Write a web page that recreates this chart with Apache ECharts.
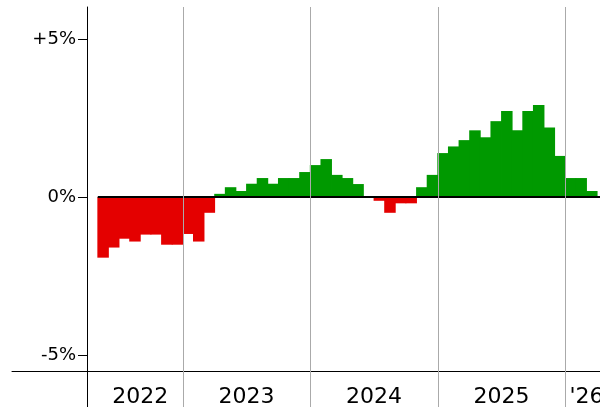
<!DOCTYPE html>
<html>
<head>
<meta charset="utf-8">
<title>Monthly change</title>
<script src="https://cdn.jsdelivr.net/npm/echarts@6/dist/echarts.min.js"></script>
<style>
  html, body { margin: 0; padding: 0; background: #fff; }
  #main { width: 600px; height: 407px; }
</style>
</head>
<body>
<div id="main"></div>
<script>
// monthly change, one bar per month
const months = [
  '2022-05', '2022-06', '2022-07', '2022-08', '2022-09', '2022-10', '2022-11', '2022-12',
  '2023-01', '2023-02', '2023-03', '2023-04', '2023-05', '2023-06', '2023-07', '2023-08', '2023-09', '2023-10', '2023-11', '2023-12',
  '2024-01', '2024-02', '2024-03', '2024-04', '2024-05', '2024-06', '2024-07', '2024-08', '2024-09', '2024-10', '2024-11', '2024-12',
  '2025-01', '2025-02', '2025-03', '2025-04', '2025-05', '2025-06', '2025-07', '2025-08', '2025-09', '2025-10', '2025-11', '2025-12',
  '2026-01', '2026-02', '2026-03'
];
const changes = [
  -1.92, -1.6, -1.32, -1.41, -1.19, -1.19, -1.51, -1.51,
  -1.17, -1.41, -0.5, 0.1, 0.31, 0.19, 0.42, 0.6, 0.42, 0.6, 0.6, 0.79,
  1.01, 1.2, 0.7, 0.6, 0.41, 0, -0.12, -0.5, -0.2, -0.2, 0.31, 0.7,
  1.39, 1.6, 1.8, 2.11, 1.89, 2.4, 2.72, 2.11, 2.72, 2.91, 2.2, 1.3,
  0.6, 0.6, 0.19
];
const years = [2022, 2023, 2024, 2025, 2026];
const yearLabels = ['2022', '2023', '2024', '2025', "'26"];
const yTicks = [-5, 0, 5];

// x axis is in months counted from Jan 2022
const xMin = -4.075;
const xMax = 51.27;
// the last year label is centred as if April 2026 were shown in full
const labelEnd = 52;

function monthIndex(s) {
  const p = s.split('-').map(Number);
  return (p[0] - 2022) * 12 + p[1] - 1;
}

const firstMonth = monthIndex(months[0]);
const barData = months.map(function (m, i) {
  return [monthIndex(m) + 0.5, changes[i]];
});

// year boundaries and label centres
const yearLines = [];
const labelCenters = [];
years.forEach(function (y) {
  const start = (y - 2022) * 12;
  if (start > firstMonth) yearLines.push({ xAxis: start });
  const a = Math.max(start, firstMonth);
  const b = Math.min(start + 12, labelEnd);
  labelCenters.push((a + b) / 2);
});

const chart = echarts.init(document.getElementById('main'));
chart.setOption({
  animation: false,
  textStyle: { fontFamily: 'DejaVu Sans' },
  grid: { left: 12, right: 0, top: 7, bottom: 0, containLabel: false, outerBoundsMode: 'none' },
  xAxis: {
    type: 'value',
    min: xMin,
    max: xMax,
    position: 'bottom',
    offset: -36,
    axisLine: { show: true, onZero: false, lineStyle: { color: '#000', width: 1 } },
    axisTick: { show: false },
    splitLine: { show: false },
    axisLabel: {
      customValues: labelCenters,
      fontSize: 22,
      color: '#000',
      margin: 15,
      formatter: function (v) {
        let best = 0;
        labelCenters.forEach(function (c, i) {
          if (Math.abs(c - v) < Math.abs(labelCenters[best] - v)) best = i;
        });
        return yearLabels[best];
      }
    }
  },
  yAxis: {
    type: 'value',
    min: -6.646,
    max: 6.013,
    position: 'left',
    offset: -75,
    axisLine: { show: true, onZero: false, lineStyle: { color: '#000', width: 1 } },
    axisTick: { show: true, customValues: yTicks, length: 9, lineStyle: { color: '#000' } },
    splitLine: { show: false },
    axisLabel: {
      customValues: yTicks,
      fontSize: 18,
      color: '#000',
      margin: 11,
      formatter: function (v) {
        return (v > 0 ? '+' : '') + v + '%';
      }
    }
  },
  series: [
    {
      type: 'bar',
      data: barData,
      barWidth: 11.5,
      itemStyle: {
        borderWidth: 0,
        color: function (p) {
          return p.value[1] < 0 ? '#e40000' : '#009900';
        }
      },
      markLine: {
        silent: true,
        symbol: 'none',
        label: { show: false },
        lineStyle: { color: '#aaa', width: 1, type: 'solid' },
        emphasis: { disabled: true },
        data: [
          [
            { coord: [firstMonth, 0], lineStyle: { color: '#000', width: 2, type: 'solid' } },
            { coord: [xMax, 0] }
          ]
        ].concat(yearLines)
      }
    }
  ]
});
</script>
</body>
</html>
